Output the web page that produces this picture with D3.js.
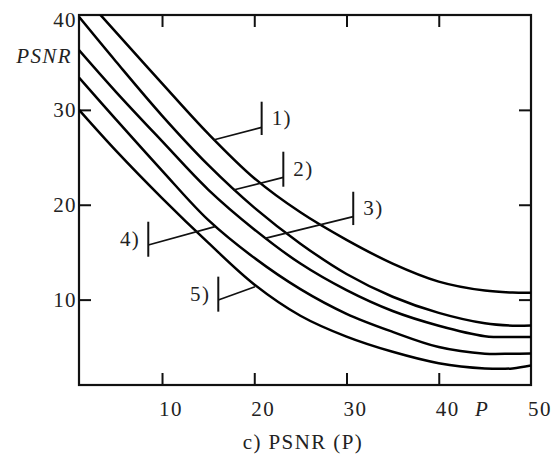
<!DOCTYPE html>
<html>
<head>
<meta charset="utf-8">
<title>PSNR (P)</title>
<script src="https://cdn.jsdelivr.net/npm/d3@7"></script>
<style>
  body { margin: 0; background: #fff; }
</style>
</head>
<body>
<div id="chart"></div>
<script>

var pValues = [1, 5, 10, 15, 20, 25, 30, 35, 40, 45, 48, 50];

// PSNR for each of the five curves
var curve1 = [42.5, 38.2, 32.8, 27.5, 22.8, 19.2, 16.3, 13.8, 11.9, 10.95, 10.75, 10.73];
var curve2 = [39.8, 35.1, 29.4, 24.2, 19.7, 15.9, 12.7, 10.3, 8.6, 7.5, 7.25, 7.27];
var curve3 = [36.3, 31.9, 26.7, 21.6, 17.4, 13.8, 11.0, 8.8, 7.25, 6.15, 6.05, 6.06];
var curve4 = [33.4, 29.0, 23.6, 18.4, 14.4, 11.1, 8.5, 6.6, 5.0, 4.3, 4.3, 4.32];
var curve5 = [30.0, 25.7, 20.7, 16.0, 11.6, 8.3, 6.1, 4.5, 3.3, 2.75, 2.75, 3.05];

// ticks
var xTicks = [10, 20, 30, 40, 50];
var yTicks = [10, 20, 30, 40];

// curve labels: bar at barP (from barV0 to barV1), leader from (barP, lineV) to (curveP, curveV)
var labelNames = ["1)", "2)", "3)", "4)", "5)"];
var barP   = [20.8, 23.15, 30.73, 8.51, 16.1];
var barV0  = [30.86, 25.59, 21.37, 18.21, 12.42];
var barV1  = [27.35, 21.9, 17.86, 14.52, 8.73];
var lineV  = [28.16, 22.89, 18.74, 15.76, 9.96];
var curveP = [15.56, 17.73, 21.16, 15.74, 20.08];
var curveV = [26.82, 21.55, 16.46, 17.69, 11.36];
var labelSide = ["right", "right", "right", "left", "left"];

var W = 557, H = 455;
var margin = {top: 15, right: 26, bottom: 70, left: 79};
var FONT = "'Liberation Serif', 'Times New Roman', Times, serif";

var svg = d3.select("#chart").append("svg")
    .attr("width", W)
    .attr("height", H);

var x = d3.scaleLinear().domain([1, 50]).range([margin.left, W - margin.right]);
var y = d3.scaleLinear().domain([1, 40]).range([H - margin.bottom, margin.top]);

svg.append("clipPath").attr("id", "plotclip")
  .append("rect")
    .attr("x", x(1)).attr("y", y(40))
    .attr("width", x(50) - x(1)).attr("height", y(1) - y(40));

// inward ticks on all four sides
var tickLen = 12;
svg.append("g")
    .attr("transform", "translate(0," + y(1) + ")")
    .call(d3.axisBottom(x).tickValues([10, 20, 30, 40]).tickSize(-tickLen).tickFormat(""));
svg.append("g")
    .attr("transform", "translate(0," + y(40) + ")")
    .call(d3.axisTop(x).tickValues([10, 20, 30, 40]).tickSize(-tickLen).tickFormat(""));
svg.append("g")
    .attr("transform", "translate(" + x(1) + ",0)")
    .call(d3.axisLeft(y).tickValues([10, 20, 30]).tickSize(-tickLen).tickFormat(""));
svg.append("g")
    .attr("transform", "translate(" + x(50) + ",0)")
    .call(d3.axisRight(y).tickValues([10, 20, 30]).tickSize(-tickLen).tickFormat(""));
svg.selectAll(".domain").remove();
svg.selectAll(".tick line").attr("stroke", "#111").attr("stroke-width", 2);

// frame
svg.append("rect")
    .attr("x", x(1)).attr("y", y(40))
    .attr("width", x(50) - x(1)).attr("height", y(1) - y(40))
    .attr("fill", "none").attr("stroke", "#111").attr("stroke-width", 2.2);

function label(sel) {
  return sel.attr("font-family", FONT)
      .attr("font-size", 21)
      .attr("letter-spacing", 1.4)
      .attr("fill", "#222");
}

// tick labels
svg.selectAll(".xlab").data(xTicks).enter().append("text")
    .attr("class", "xlab")
    .attr("x", function(d) { return x(d) + 9; })
    .attr("y", 416)
    .attr("text-anchor", "middle")
    .text(function(d) { return d; })
    .call(label);

svg.selectAll(".ylab").data(yTicks).enter().append("text")
    .attr("class", "ylab")
    .attr("x", x(1) - 2)
    .attr("y", function(d) { return Math.max(y(d), 20) + 7; })
    .attr("text-anchor", "end")
    .text(function(d) { return d; })
    .call(label);

// axis names
svg.append("text")
    .attr("x", 482).attr("y", 416)
    .attr("text-anchor", "middle")
    .attr("font-style", "italic")
    .text("P")
    .call(label);
svg.append("text")
    .attr("x", 72).attr("y", 63)
    .attr("text-anchor", "end")
    .attr("font-style", "italic")
    .text("PSNR")
    .call(label);
svg.append("text")
    .attr("x", 303).attr("y", 449)
    .attr("text-anchor", "middle")
    .text("c) PSNR (P)")
    .call(label);

// curves
var curves = [curve1, curve2, curve3, curve4, curve5];
var line = d3.line()
    .x(function(d, i) { return x(pValues[i]); })
    .y(function(d) { return y(d); })
    .curve(d3.curveCatmullRom.alpha(0.5));

svg.append("g").attr("clip-path", "url(#plotclip)")
  .selectAll("path").data(curves).enter().append("path")
    .attr("d", line)
    .attr("fill", "none")
    .attr("stroke", "#000")
    .attr("stroke-width", 2.5);

// curve labels
var ann = svg.append("g");
labelNames.forEach(function(name, i) {
  ann.append("line")
      .attr("x1", x(barP[i])).attr("x2", x(barP[i]))
      .attr("y1", y(barV0[i])).attr("y2", y(barV1[i]))
      .attr("stroke", "#111").attr("stroke-width", 2);
  ann.append("line")
      .attr("x1", x(barP[i])).attr("y1", y(lineV[i]))
      .attr("x2", x(curveP[i])).attr("y2", y(curveV[i]))
      .attr("stroke", "#111").attr("stroke-width", 1.7);
  var mid = (y(barV0[i]) + y(barV1[i])) / 2;
  ann.append("text")
      .attr("x", labelSide[i] == "right" ? x(barP[i]) + 10 : x(barP[i]) - 8)
      .attr("y", mid + 7)
      .attr("text-anchor", labelSide[i] == "right" ? "start" : "end")
      .text(name)
      .call(label);
});

</script>
</body>
</html>
